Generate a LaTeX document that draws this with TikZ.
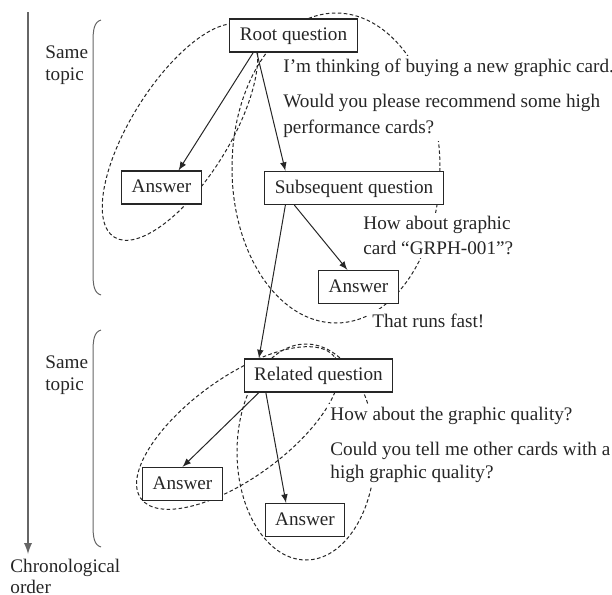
\documentclass[tikz,border=0pt]{standalone}
\usepackage{fontspec}
\setmainfont{Liberation Serif}
\usepackage{tikz}
\usetikzlibrary{positioning,arrows}
\tikzset{every picture/.style={>=latex,black!85}}
\tikzset{post/.style={draw,fill=white,line width=0.6pt,font=\fontsize{9.6}{11.5}\selectfont,inner xsep=5pt,inner ysep=3.75pt,text height=7pt,text depth=2pt}}
\tikzset{remark/.style={fill=white,inner sep=1.5pt,align=left,anchor=north west,font=\fontsize{9.6}{11.5}\selectfont}}
\tikzset{thread lines/.style={line width=0.5pt,dash pattern=on 1.8pt off 1.2pt}}
\tikzset{reply/.style={->,line width=0.5pt}}
\tikzset{topic bracket/.style={line width=0.5pt,black!60}}
\tikzset{time line/.style={->,line width=0.9pt,black!60}}

\begin{document}
\begin{tikzpicture}[x=1pt,y=-1pt,scale=0.5]
      \useasboundingbox (0,0) rectangle (612,595);
      \draw [thread lines] (180,132) ellipse [x radius=124, y radius=49, rotate=58];
      \draw [thread lines] (336,168) ellipse [x radius=104, y radius=155];
      \draw [thread lines] (238,428) ellipse [x radius=120, y radius=50, rotate=36];
      \draw [thread lines] (306,452) ellipse [x radius=69, y radius=108];

      \node[post] (root) at (293.5,35.5) {Root question};
      \node[post] (ans1) at (161.5,187.5) {Answer};
      \node[post] (subq) at (354,188) {Subsequent question};
      \node[post] (ans2) at (358.5,287) {Answer};
      \node[post] (relq) at (318.5,375.5) {Related question};
      \node[post] (ans3) at (182.5,484) {Answer};
      \node[post] (ans4) at (305,520) {Answer};

      \node[remark] (root text) at (280,56) {I'm thinking of buying a new graphic card.\\[6pt]Would you please recommend some high\\[1.5pt]performance cards?};
      \node[remark] (subq text) at (360,213) {How about graphic\\[1pt]card “GRPH-001”?};
      \node[remark,inner sep=2.5pt] (ans2 text) at (367,309) {That runs fast!};
      \node[remark] (relq text) at (327,404) {How about the graphic quality?\\[6pt]Could you tell me other cards with a\\high graphic quality?};

      \draw[reply] (root.203) -- (ans1.45);
      \draw[reply] (root.205) -- (subq.166);
      \draw[reply] (subq.196) -- (ans2.123);
      \draw[reply] (subq.194) -- (relq.164);
      \draw[reply] (relq.196) -- (ans3.north);
      \draw[reply] (relq.198) -- (ans4.138);

      \node[remark,fill=none] (topic one) at (42,42) {Same\\[-0.5pt]topic};
      \node[remark,fill=none] (topic two) at (42,352) {Same\\[-0.5pt]topic};
      \draw[topic bracket] (101,20) .. controls (94,22) and (93,30) .. (93,42) -- (93,273) .. controls (93,285) and (94,293) .. (101,295);
      \draw[topic bracket] (101,330) .. controls (94,332) and (93,340) .. (93,352) -- (93,525) .. controls (93,537) and (94,545) .. (101,547);

      \coordinate (time top) at (28,12);
      \coordinate (time end) at (28,554);
      \draw[time line] (time top) -- (time end);
      \node[remark,fill=none] (time text) at (7,556) {Chronological\\[-1pt]order};
    \end{tikzpicture}
\end{document}
